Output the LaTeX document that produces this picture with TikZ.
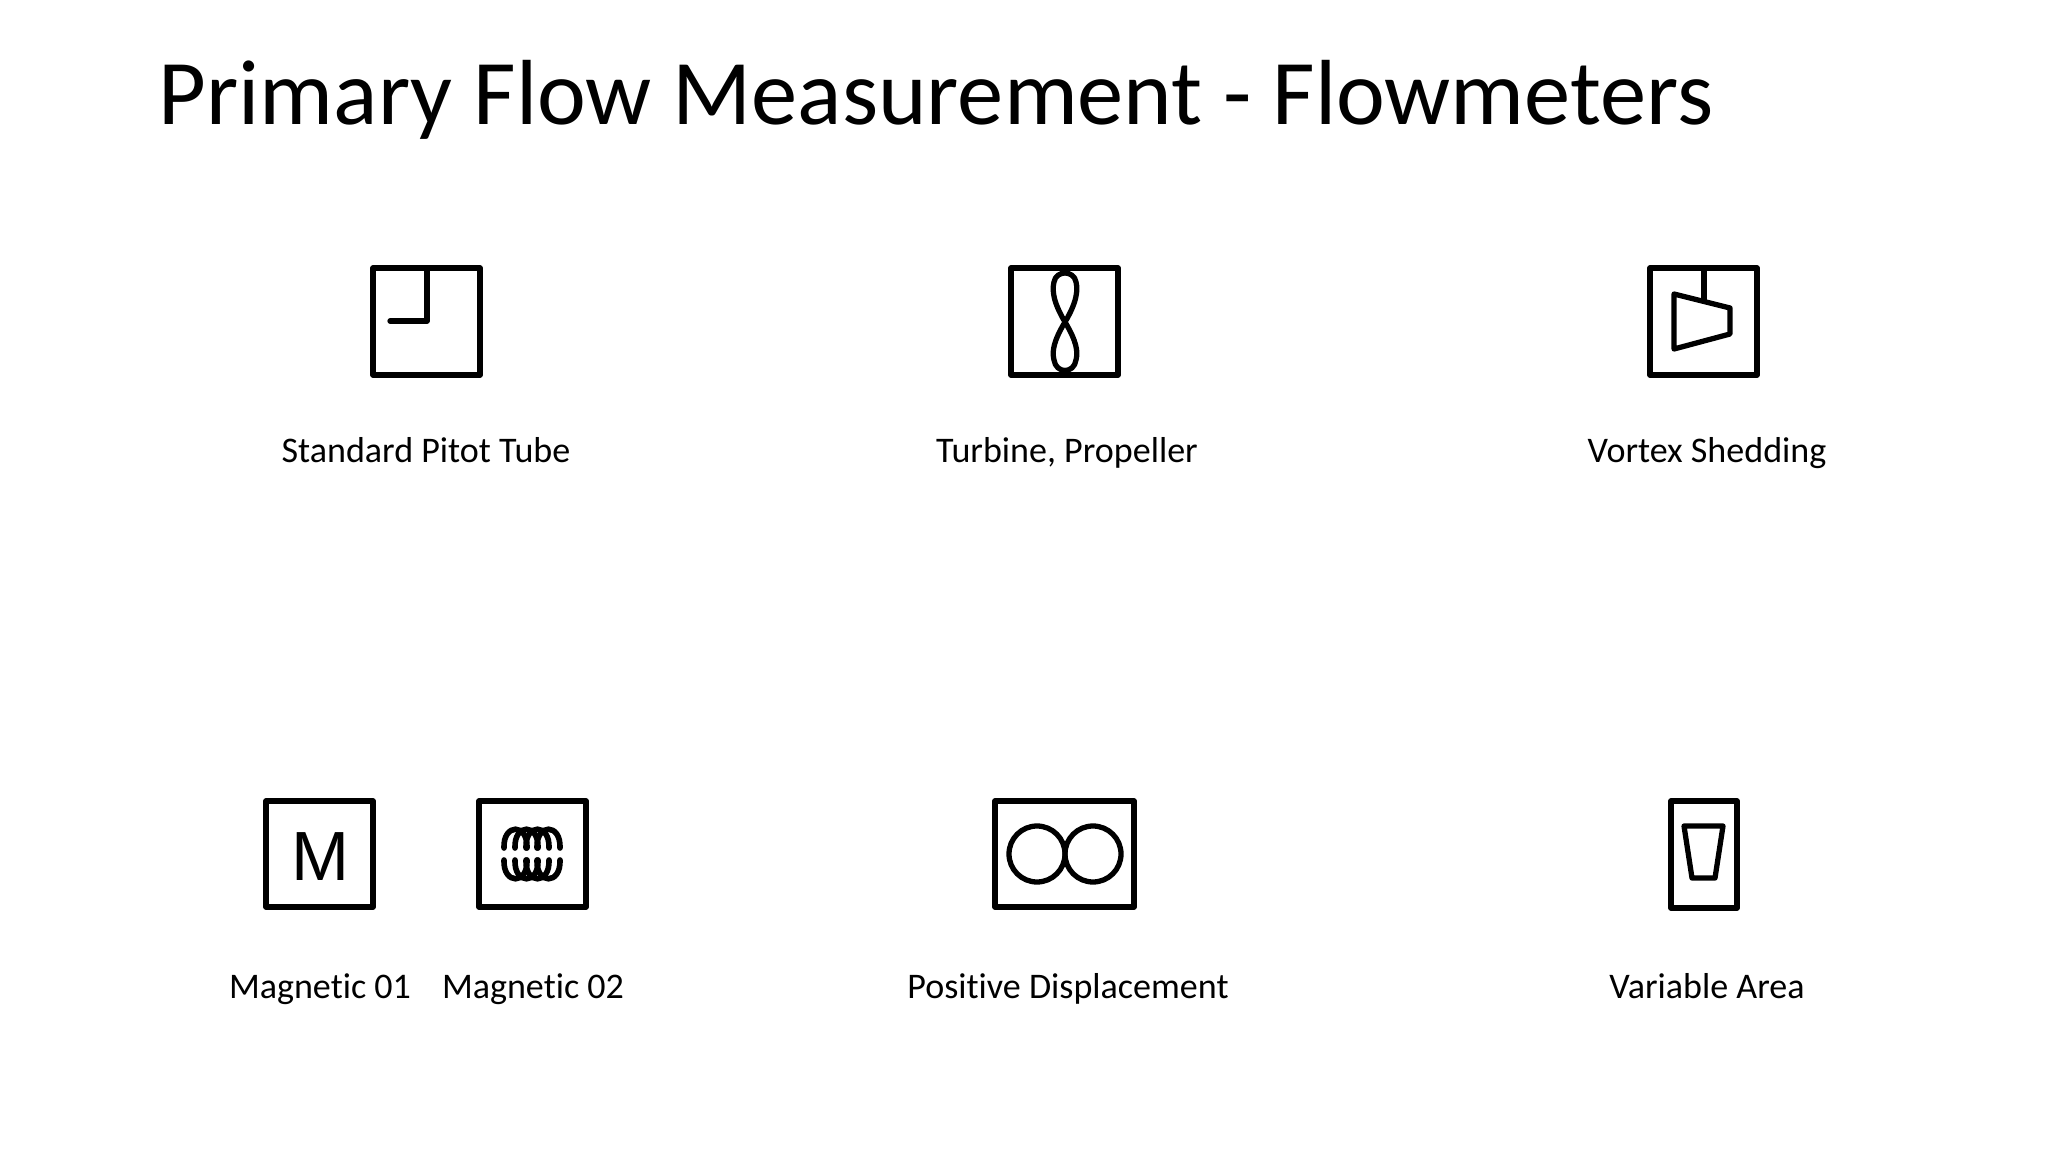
\documentclass[tikz,border=0pt]{standalone}
\usepackage{fontspec}
\setmainfont[Ligatures=NoCommon]{Carlito}
\newfontfamily\symbolfont{Liberation Sans}
\usepackage{tikz}
\usetikzlibrary{positioning, calc}

\tikzset{
  symbolline/.style={line width=1.5pt, line join=round, line cap=round},
  coilline/.style={line width=1.6pt, line cap=round},
  titletext/.style={anchor=base west, font=\fontsize{26.3}{32}\selectfont, inner sep=0pt},
  labeltext/.style={anchor=base, font=\fontsize{10.25}{13}\selectfont, inner sep=0pt},
}

\begin{document}
\begin{tikzpicture}[x=0.01cm, y=-0.01cm]

\useasboundingbox (0,0) rectangle (2048,1152);

% --- Title ---
\node[titletext] (title) at (158,125) {Primary Flow Measurement - Flowmeters};

% --- Standard Pitot Tube ---
\draw[symbolline] (373,268) rectangle (480,375);
\draw[symbolline] (427,268) -- (427,321) -- (390,321);
\node[labeltext] (pitotlabel) at (426,463) {Standard Pitot Tube};

% --- Turbine, Propeller ---
\draw[symbolline] (1011,268) rectangle (1118,375);
\draw[symbolline] (1065,322) .. controls (1053,302) and (1052,290) .. (1054,282)
  .. controls (1056,270) and (1074,270) .. (1076,282)
  .. controls (1078,290) and (1077,302) .. (1065,322)
  .. controls (1053,342) and (1052,352) .. (1054,360)
  .. controls (1056,374) and (1074,374) .. (1076,360)
  .. controls (1078,352) and (1077,342) .. (1065,322) -- cycle;
\node[labeltext] (turbinelabel) at (1067,463) {Turbine, Propeller};

% --- Vortex Shedding ---
\draw[symbolline] (1650,268) rectangle (1757,375);
\draw[symbolline] (1704,268) -- (1704,301);
\draw[symbolline] (1674,294) -- (1730,308) -- (1730,334) -- (1674,349) -- cycle;
\node[labeltext] (vortexlabel) at (1707,463) {Vortex Shedding};

% --- Magnetic 01 ---
\draw[symbolline] (266,801) rectangle (373,907);
\node[font=\symbolfont\fontsize{19.8}{22}\selectfont, inner sep=0pt] (magneticletter) at (320.5,857) {M};
\node[labeltext] (magneticalabel) at (320,998) {Magnetic 01};

% --- Magnetic 02 ---
\draw[symbolline] (479,801) rectangle (586,907);
% coil turns, upper and lower row
\foreach \x in {504,515,526,537} {
  \draw[coilline] (\x,848) .. controls (\x-1,823) and (\x+24,823) .. (\x+23,848);
  \draw[coilline] (\x,860) .. controls (\x-1,885) and (\x+24,885) .. (\x+23,860);
}
\node[labeltext] (magneticblabel) at (533,998) {Magnetic 02};

% --- Positive Displacement ---
\draw[symbolline] (995,801) rectangle (1134,907);
\draw[symbolline] (1037,854) circle (28);
\draw[symbolline] (1093,854) circle (28);
\node[labeltext] (displacementlabel) at (1068,998) {Positive Displacement};

% --- Variable Area ---
\draw[symbolline] (1671,801) rectangle (1737,908);
\draw[symbolline] (1684,826) -- (1723,826) -- (1715,878) -- (1692,878) -- cycle;
\node[labeltext] (arealabel) at (1707,998) {Variable Area};

\end{tikzpicture}
\end{document}
